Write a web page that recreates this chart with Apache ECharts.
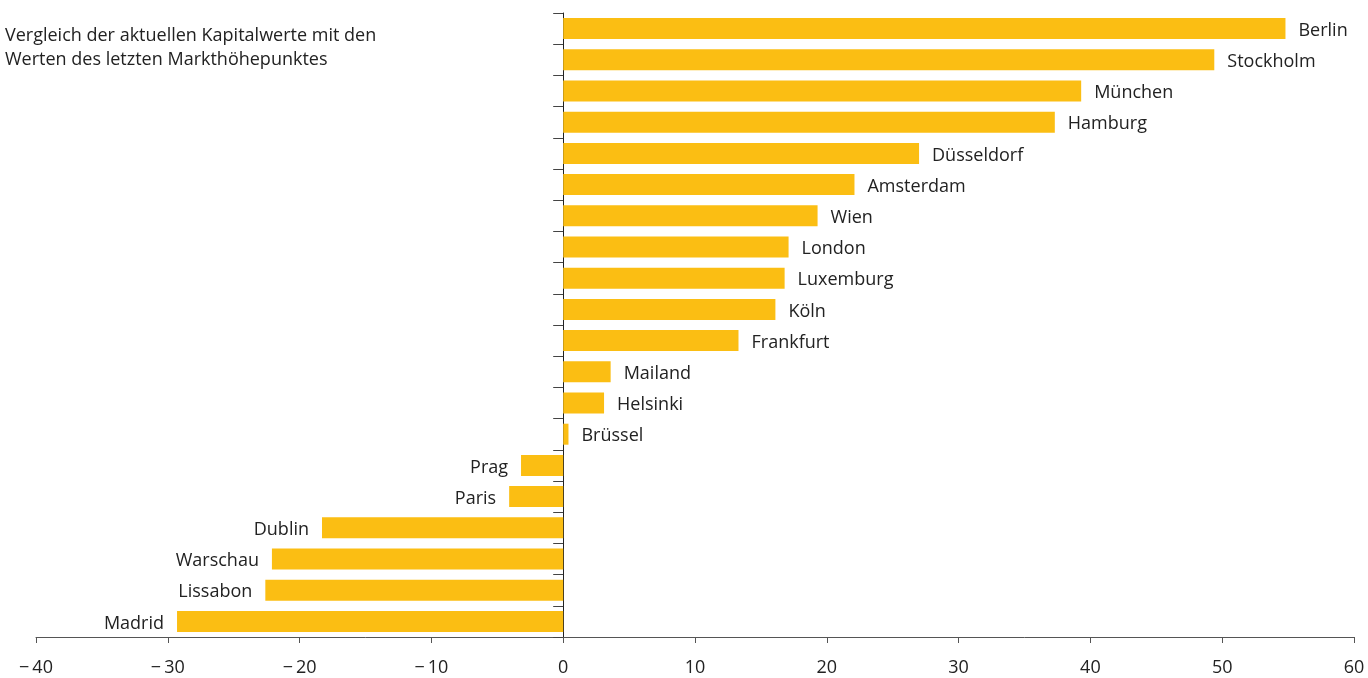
<!DOCTYPE html>
<html>
<head>
<meta charset="utf-8">
<script src="https://cdn.jsdelivr.net/npm/echarts@6/dist/echarts.min.js"></script>
<style>
html,body{margin:0;padding:0;background:#fff;}
#c{width:1368px;height:678px;}
</style>
</head>
<body>
<div id="c"></div>
<script>
const cities = ["Berlin","Stockholm","München","Hamburg","Düsseldorf","Amsterdam","Wien","London","Luxemburg","Köln","Frankfurt","Mailand","Helsinki","Brüssel","Prag","Paris","Dublin","Warschau","Lissabon","Madrid"];
const values = [54.8,49.4,39.3,37.3,27.0,22.1,19.3,17.1,16.8,16.1,13.3,3.6,3.1,0.4,-3.2,-4.1,-18.3,-22.1,-22.6,-29.3];
const xTicks = {min:-40, max:60, interval:10};
const titleText = "Vergleich der aktuellen Kapitalwerte mit den\nWerten des letzten Markthöhepunktes";

const FONT = "'Open Sans', sans-serif";
const chart = echarts.init(document.getElementById('c'));
chart.setOption({
  animation:false,
  title:{text:titleText,left:0,top:19,textStyle:{fontFamily:FONT,fontSize:18,fontWeight:'normal',color:'#222',lineHeight:24}},
  grid:{left:36,right:14,top:13,bottom:41,containLabel:false},
  xAxis:{type:'value',min:xTicks.min,max:xTicks.max,interval:xTicks.interval,splitLine:{show:false},
    axisLine:{show:true,onZero:false,lineStyle:{color:'#555',width:1}},
    axisTick:{show:true,length:6,lineStyle:{color:'#555'}},
    axisLabel:{margin:22,fontFamily:FONT,fontSize:18,color:'#222',formatter:v=>v<0?'\u2212\u2009'+Math.abs(v):String(v)}},
  yAxis:{type:'category',data:cities,inverse:true,
    axisLine:{show:true,onZero:true,lineStyle:{color:'#222',width:1}},
    axisTick:{show:true,length:10,lineStyle:{color:'#444'}},
    axisLabel:{show:false}},
  series:[{type:'bar',barWidth:21,itemStyle:{color:'#FBBE13'},
    data:values.map((v,i)=>({value:v,label:{show:true,position:v<0?'left':'right',distance:13,offset:[0,2],formatter:cities[i],fontFamily:FONT,fontSize:18,color:'#222'}}))}]
});
</script>
</body>
</html>
